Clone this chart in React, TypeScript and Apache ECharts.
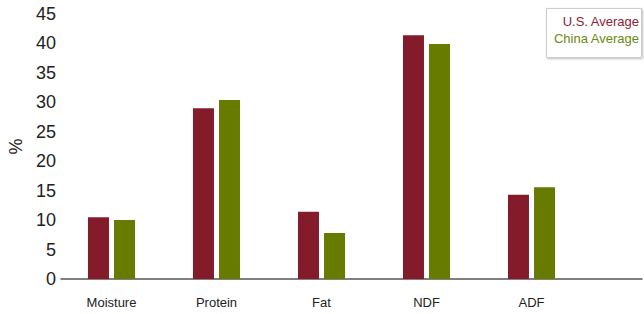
import React, { useEffect, useRef } from "react";
import * as echarts from "echarts";

const categories = ["Moisture", "Protein", "Fat", "NDF", "ADF"];
const usAverage = [10.5, 29.0, 11.4, 41.4, 14.3];
const chinaAverage = [10.0, 30.4, 7.8, 39.9, 15.6];
const seriesNames = ["U.S. Average", "China Average"];
const yTicks = { min: 0, max: 45, interval: 5 };

const US_COLOR = "#841b2b";
const CN_COLOR = "#667b00";

export default function App() {
  const ref = useRef<HTMLDivElement>(null);
  useEffect(() => {
    if (!ref.current) return;
    const chart = echarts.init(ref.current, undefined, { renderer: "svg" });
    chart.setOption({
      animation: false,
      textStyle: { fontFamily: "Liberation Sans, Arial, sans-serif" },
      grid: [
        { left: 59, right: 60, top: 14, bottom: 35, outerBoundsMode: "none", containLabel: false },
        { left: 61, right: 2, top: 14, bottom: 35, outerBoundsMode: "none", containLabel: false },
      ],
      xAxis: [
        {
          type: "category",
          gridIndex: 0,
          data: categories,
          axisLine: { show: false },
          axisTick: { show: false },
          axisLabel: { color: "#222", fontSize: 13, margin: 17 },
        },
        {
          type: "category",
          gridIndex: 1,
          data: [""],
          axisLine: { show: true, lineStyle: { color: "#555", width: 1.5 } },
          axisTick: { show: false },
          axisLabel: { show: false },
        },
      ],
      yAxis: [
        {
          type: "value",
          gridIndex: 0,
          min: yTicks.min,
          max: yTicks.max,
          interval: yTicks.interval,
          name: "%",
          nameLocation: "middle",
          nameRotate: 90,
          nameGap: 33,
          nameTextStyle: { color: "#222", fontSize: 18 },
          axisLine: { show: false },
          axisTick: { show: false },
          splitLine: { show: false },
          axisLabel: { color: "#222", fontSize: 18, margin: 3 },
        },
        {
          type: "value",
          gridIndex: 1,
          show: false,
          min: 0,
          max: 45,
        },
      ],
      series: [
        {
          name: seriesNames[0],
          type: "bar",
          xAxisIndex: 0,
          yAxisIndex: 0,
          data: usAverage,
          barWidth: 21,
          barGap: "24%",
          itemStyle: { color: US_COLOR },
        },
        {
          name: seriesNames[1],
          type: "bar",
          xAxisIndex: 0,
          yAxisIndex: 0,
          data: chinaAverage,
          barWidth: 21,
          barGap: "24%",
          itemStyle: { color: CN_COLOR },
        },
      ],
      graphic: [
        {
          type: "rect",
          right: 2,
          top: 8,
          shape: { width: 95, height: 49 },
          style: {
            fill: "#fff",
            stroke: "#cccccc",
            lineWidth: 1,
            shadowBlur: 2,
            shadowColor: "rgba(0,0,0,0.25)",
            shadowOffsetX: 1,
            shadowOffsetY: 1,
          },
        },
        {
          type: "text",
          right: 5,
          top: 15,
          style: {
            text: seriesNames[0],
            fill: "#8b2234",
            font: "13px Liberation Sans, Arial, sans-serif",
            textAlign: "right",
          },
        },
        {
          type: "text",
          right: 5,
          top: 32,
          style: {
            text: seriesNames[1],
            fill: "#6b8a12",
            font: "13px Liberation Sans, Arial, sans-serif",
            textAlign: "right",
          },
        },
      ],
    });
    return () => chart.dispose();
  }, []);
  return (
    <div
      ref={ref}
      style={{ position: "absolute", left: 0, top: 0, width: 644, height: 314 }}
    />
  );
}
